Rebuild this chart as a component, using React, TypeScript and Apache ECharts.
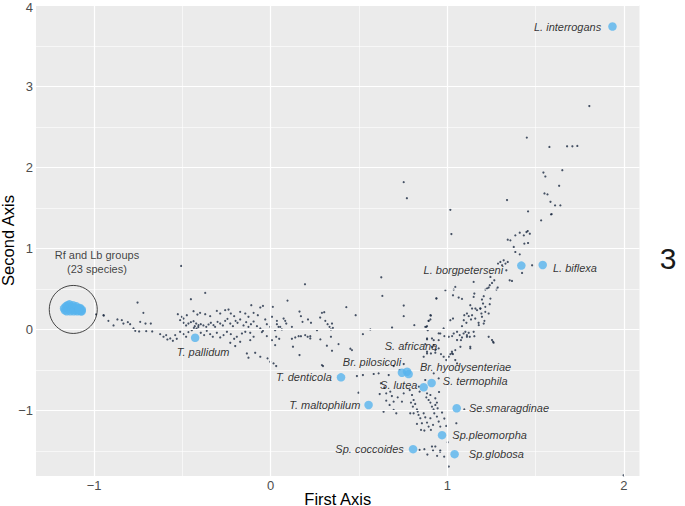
import React, { useEffect, useRef } from "react";
import * as echarts from "echarts";

// ---- axes ----
const xTicks = [-1, 0, 1, 2];
const yTicks = [-1, 0, 1, 2, 3, 4];
const xMinorGrid = [-0.5, 0.5, 1.5];
const yMinorGrid = [-1.5, -0.5, 0.5, 1.5, 2.5, 3.5];
const xRange = [-1.329, 2.088];
const yRange = [-1.809, 4.005];

// ---- highlighted (labelled) species ----
const namedSpecies = [
  "L. interrogans", "L. borgpetersenі", "L. biflexa", "T. pallidum", "T. denticola",
  "Br. pilosicoli", "S. africana", "Br. hyodysenteriae", "S. termophila", "S. lutea",
  "Se.smaragdinae", "Sp.pleomorpha", "Sp. coccoides", "Sp.globosa", "T. maltophilum",
];
const namedX = [1.935, 1.419, 1.540, -0.428, 0.398, 0.743, 0.772, 0.781, 0.911, 0.866, 1.053, 0.970, 0.806, 1.041, 0.554];
const namedY = [3.739, 0.788, 0.796, -0.103, -0.591, -0.534, -0.522, -0.551, -0.661, -0.714, -0.973, -1.305, -1.478, -1.539, -0.932];

// ---- Rf and Lb groups (23 species) ----
const rfLbX = [-1.17, -1.165, -1.16, -1.155, -1.15, -1.145, -1.14, -1.135, -1.13, -1.125, -1.12, -1.115,
  -1.11, -1.105, -1.1, -1.095, -1.09, -1.085, -1.08, -1.075, -1.07, -1.07, -1.085];
const rfLbY = [0.26, 0.235, 0.285, 0.225, 0.3, 0.255, 0.31, 0.225, 0.28, 0.245, 0.3, 0.225,
  0.27, 0.24, 0.285, 0.225, 0.255, 0.235, 0.265, 0.225, 0.245, 0.225, 0.255];
const groupCentre = [-1.118, 0.247];
const groupNote = "Rf and Lb groups\n(23 species)";
const groupNotePos = [-0.984, 0.83];

// ---- all other species ----
const otherSpecies: [number, number][] = [
  [-0.989, 0.185], [-0.947, 0.176], [-0.945, 0.172],
  [-0.507, 0.784], [-0.371, 0.451], [-0.754, 0.332], [-0.452, 0.373], [-0.110, 0.299], [-0.059, 0.271],
  [-0.044, 0.291], [-0.721, 0.205], [-0.526, 0.188], [-0.503, 0.156], [-0.494, 0.135], [-0.475, 0.176],
  [-0.437, 0.225], [-0.415, 0.184], [-0.400, 0.205], [-0.371, 0.188], [-0.343, 0.164], [-0.305, 0.229],
  [-0.286, 0.197], [-0.258, 0.238], [-0.239, 0.246], [-0.226, 0.197], [-0.207, 0.164], [-0.173, 0.217],
  [-0.144, 0.197], [-0.126, 0.156], [-0.097, 0.205], [-0.073, 0.176], [-0.031, 0.123], [0.007, 0.156],
  [0.035, 0.106], [-0.919, 0.106], [-0.890, 0.049], [-0.868, 0.123], [-0.843, 0.115], [-0.834, 0.073],
  [-0.809, 0.090], [-0.796, 0.065], [-0.777, 0.012], [-0.767, -0.017], [-0.739, 0.094], [-0.709, 0.073],
  [-0.679, 0.073], [-0.745, -0.025], [-0.705, -0.021], [-0.671, -0.025], [-0.513, 0.115], [-0.494, 0.082],
  [-0.479, 0.049], [-0.466, 0.073], [-0.452, 0.090], [-0.437, 0.102], [-0.422, 0.073], [-0.409, 0.053],
  [-0.396, 0.065], [-0.381, 0.049], [-0.365, 0.032], [-0.352, 0.061], [-0.339, 0.082], [-0.324, 0.053],
  [-0.315, 0.032], [-0.301, 0.094], [-0.286, 0.073], [-0.271, 0.049], [-0.258, 0.106], [-0.245, 0.131],
  [-0.229, 0.073], [-0.214, 0.041], [-0.199, 0.106], [-0.188, 0.082], [-0.173, 0.123], [-0.154, 0.049],
  [-0.139, 0.090], [-0.126, 0.032], [-0.112, 0.065], [-0.097, 0.098], [-0.078, 0.041], [-0.059, 0.012],
  [-0.044, -0.017], [-0.022, 0.065], [-0.003, 0.032], [0.025, -0.009], [0.044, 0.032], [-0.626, -0.058],
  [-0.607, -0.090], [-0.592, -0.070], [-0.585, -0.124], [-0.569, -0.111], [-0.554, -0.140], [-0.541, -0.070],
  [-0.532, -0.115], [-0.513, -0.029], [-0.494, -0.058], [-0.479, -0.090], [-0.466, -0.033], [-0.447, -0.009],
  [-0.396, -0.041], [-0.377, -0.070], [-0.362, -0.017], [-0.343, -0.058], [-0.328, -0.090], [-0.305, -0.041],
  [-0.286, -0.099], [-0.267, -0.070], [-0.248, -0.029], [-0.226, -0.058], [-0.207, -0.115], [-0.192, -0.090],
  [-0.163, -0.050], [-0.144, -0.029], [-0.116, -0.041], [-0.097, -0.090], [-0.050, -0.033], [-0.022, -0.082],
  [0.007, -0.132], [-0.229, -0.165], [-0.201, -0.205], [-0.173, -0.152], [-0.116, -0.132], [-0.135, -0.296],
  [-0.088, -0.288], [-0.126, -0.349], [-0.059, -0.337], [-0.018, -0.357], [-0.003, -0.399], [0.016, -0.419],
  [-0.435, 0.02], [-0.42, 0.01], [-0.41, 0.03], [-0.43, 0.04],
  // centre-left field
  [0.194, 0.558], [0.626, 0.644], [0.095, 0.356], [0.012, 0.279], [0.428, 0.275], [0.632, 0.414],
  [0.753, 0.295], [0.938, 0.385], [0.481, 0.176], [0.163, 0.221], [0.171, 0.164], [0.180, 0.094],
  [0.211, 0.123], [0.228, 0.082], [0.073, 0.135], [0.082, 0.106], [0.088, 0.073], [0.054, 0.032],
  [0.063, 0.000], [0.035, 0.065], [0.120, 0.032], [0.280, 0.147], [0.290, 0.205], [0.303, 0.213],
  [0.309, 0.106], [0.322, 0.065], [0.333, 0.032], [0.347, 0.073], [0.352, 0.020], [0.341, 0.000],
  [0.262, -0.009], [0.031, -0.090], [0.048, -0.115], [0.120, -0.115], [0.139, -0.099], [0.158, -0.083],
  [0.171, -0.083], [0.195, -0.070], [0.209, -0.090], [0.224, -0.083], [0.224, -0.111], [0.281, -0.123],
  [0.341, -0.090], [0.025, -0.193], [0.126, -0.213], [0.163, -0.316], [0.318, -0.201], [0.347, -0.263],
  [0.384, -0.181], [0.451, -0.238], [0.460, -0.255], [0.296, -0.452], [0.031, -0.452], [0.564, 0.000],
  [0.522, -0.058], [0.687, 0.024], [0.813, 0.053], [0.881, 0.032], [0.889, -0.009], [0.894, 0.106],
  [0.904, 0.123], [0.907, 0.172], [0.885, -0.123], [0.913, -0.111], [0.951, -0.049], [0.923, -0.193],
  [0.885, -0.275], [0.907, -0.296], [0.932, -0.287], [0.951, -0.234], [0.753, 0.164], [0.290, -0.440],
  [0.488, -0.575], [0.522, -0.563], [0.497, -0.781], [0.617, -0.797], [0.654, -0.879], [0.673, -0.932],
  [0.696, -0.994], [0.639, -1.015],
  // rising arm towards Leptospira
  [0.753, 1.818], [0.771, 1.620], [1.017, 1.477], [1.457, 1.457], [1.587, 1.420], [1.531, 1.346],
  [1.023, 1.178], [1.342, 1.108], [1.357, 1.100], [1.385, 1.161], [1.410, 1.194], [1.433, 1.161],
  [1.448, 1.202], [1.455, 1.215], [1.467, 1.182], [1.436, 1.059], [1.457, 1.067], [1.376, 1.018],
  [1.385, 0.956], [1.410, 0.927], [1.342, 0.833], [1.300, 0.833], [1.319, 0.854], [1.329, 0.813],
  [1.334, 0.730], [1.353, 0.607], [1.366, 0.599], [1.310, 0.792], [1.287, 0.813], [1.480, 0.792],
  [1.423, 0.697], [1.244, 0.648], [1.266, 0.607], [1.253, 0.574], [1.240, 0.546], [1.225, 0.505],
  [1.215, 0.492], [1.234, 0.517], [1.285, 0.517], [1.278, 0.492], [1.149, 0.587], [1.153, 0.443],
  [1.206, 0.410], [1.196, 0.369], [1.202, 0.320], [1.244, 0.381], [1.240, 0.312], [1.215, 0.217],
  [1.045, 0.525], [1.036, 0.492], [1.032, 0.422], [1.064, 0.394], [1.083, 0.377], [1.149, 0.402],
  [1.159, 0.258], [1.168, 0.238], [1.187, 0.258], [1.193, 0.197], [1.196, 0.156], [1.234, 0.197],
  [1.210, 0.106], [1.177, 0.082], [1.140, 0.258], [1.111, 0.197], [1.096, 0.176], [1.121, 0.164],
  [1.134, 0.123], [1.108, 0.082], [1.083, 0.041], [1.032, 0.135], [1.017, 0.114], [0.989, 0.484],
  [0.938, 0.381], [0.904, 0.176], [0.894, 0.106], [0.885, 0.041], [0.875, 0.032], [0.979, 0.012],
  [0.983, -0.082], [0.960, -0.050], [0.951, -0.132], [1.008, -0.091], [1.027, -0.082], [1.055, -0.029],
  [1.070, -0.070], [1.083, -0.099], [1.077, -0.132], [1.092, -0.050], [1.102, -0.029], [1.111, -0.070],
  [1.121, -0.041], [1.127, -0.091], [1.149, -0.029], [1.153, -0.083], [1.130, -0.214], [1.074, -0.214],
  [1.045, -0.255], [1.026, -0.275], [1.017, -0.304], [1.032, -0.304], [1.008, -0.337], [0.979, -0.337],
  [0.994, -0.378], [0.964, -0.304], [0.932, -0.255], [0.913, -0.214], [0.923, -0.132], [0.885, -0.111],
  [0.875, -0.181], [0.885, -0.296], [0.866, -0.337], [1.234, -0.091], [1.259, -0.152], [1.045, -0.378],
  [1.055, -0.419], [1.215, 0.279], [1.187, 0.258], [1.130, 0.299], [1.140, 0.176], [1.158, 0.135],
  [1.093, 0.114], [1.206, 0.073], [1.178, 0.053], [1.253, -0.131], [1.262, -0.164], [1.036, -0.050],
  [1.055, -0.131], [1.111, -0.091], [1.130, -0.234], [1.027, -0.296],
  // upper Leptospira branch
  [1.804, 2.758], [1.450, 2.368], [1.578, 2.253], [1.678, 2.261], [1.708, 2.261], [1.736, 2.265],
  [1.651, 1.966], [1.544, 1.937], [1.555, 1.888], [1.633, 1.773], [1.550, 1.679], [1.567, 1.667],
  [1.584, 1.576], [1.610, 1.531], [1.640, 1.531], [1.338, 1.597], [1.591, 1.424],
  // lower Spirochaeta / Treponema cluster
  [0.583, -0.550], [0.611, -0.542], [0.668, -0.563], [0.624, -0.665], [0.643, -0.715], [0.654, -0.789],
  [0.677, -0.768], [0.686, -0.822], [0.696, -0.891], [0.719, -0.838], [0.711, -1.035], [0.743, -0.891],
  [0.753, -0.789], [0.787, -0.748], [0.800, -0.809], [0.809, -0.871], [0.794, -0.903], [0.805, -0.953],
  [0.818, -0.920], [0.828, -0.986], [0.832, -1.014], [0.809, -1.035], [0.837, -1.055], [0.847, -1.096],
  [0.866, -1.035], [0.875, -1.084], [0.856, -1.158], [0.885, -1.150], [0.894, -1.199], [0.904, -1.096],
  [0.907, -1.240], [0.919, -1.178], [0.926, -1.035], [0.941, -1.076], [0.951, -1.137], [0.945, -0.973],
  [0.932, -0.932], [0.970, -1.026], [0.960, -1.199], [0.994, -1.191], [0.983, -1.100], [0.839, -0.706],
  [0.843, -0.768], [0.885, -0.789], [0.881, -0.838], [0.894, -0.871], [0.904, -0.903], [0.913, -0.953],
  [0.922, -0.986], [0.932, -0.850], [0.941, -0.903], [0.953, -0.772], [0.875, -0.624], [0.904, -0.809],
  [0.790, -1.035], [0.828, -1.166], [0.851, -1.240], [0.870, -1.248], [0.913, -1.445], [0.919, -1.495],
  [0.932, -1.445], [0.960, -1.495], [0.870, -1.478], [0.843, -1.486], [1.008, -1.692], [1.096, -0.986],
  [0.730, -0.501], [0.696, -0.452], [0.753, -0.427], [0.923, -0.542], [0.951, -0.604], [1.002, -1.392],
  [0.887, -1.544], [0.942, -1.560], [0.959, -1.509], [0.982, -1.570], [1.051, -1.158], [1.998, -1.80],
];

// label placement for the highlighted species (style only)
const labelPlacement: Record<string, { position: string; distance: number; offset?: number[] }> = {
  "L. interrogans": { position: "left", distance: 7 },
  "L. borgpetersenі": { position: "left", distance: 14, offset: [0, 4] },
  "L. biflexa": { position: "right", distance: 6, offset: [0, 3] },
  "T. pallidum": { position: "bottom", distance: 4, offset: [8, 0] },
  "T. denticola": { position: "left", distance: 5 },
  "Br. pilosicoli": { position: "top", distance: 1, offset: [-30, 0] },
  "S. africana": { position: "top", distance: 16, offset: [4, 0] },
  "Br. hyodysenteriae": { position: "right", distance: 7, offset: [0, -7] },
  "S. termophila": { position: "right", distance: 7, offset: [0, -2] },
  "S. lutea": { position: "left", distance: 2, offset: [0, -2] },
  "Se.smaragdinae": { position: "right", distance: 8 },
  "Sp.pleomorpha": { position: "right", distance: 6 },
  "Sp. coccoides": { position: "left", distance: 5 },
  "Sp.globosa": { position: "right", distance: 10 },
  "T. maltophilum": { position: "left", distance: 4 },
};

const FONT = "'Liberation Sans', Arial, Helvetica, sans-serif";
const BLUE = "#58B4EE";
const DOT = "#1B2A42";
const fmt = (v: number) => (v < 0 ? "\u2212" + Math.abs(v) : String(v));
const fmtY = (v: number) => (v === 4 ? "{top|4}" : fmt(v));

export default function App() {
  const ref = useRef<HTMLDivElement>(null);
  useEffect(() => {
    document.body.style.margin = "0";
    const chart = echarts.init(ref.current!, null, { renderer: "svg" });

    const gridLines = [
      ...xTicks.map((v) => ({ xAxis: v, lineStyle: { width: 1.2 } })),
      ...xMinorGrid.map((v) => ({ xAxis: v, lineStyle: { width: 0.6 } })),
      ...yTicks.map((v) => ({ yAxis: v, lineStyle: { width: 1.2 } })),
      ...yMinorGrid.map((v) => ({ yAxis: v, lineStyle: { width: 0.6 } })),
    ];

    const named = namedSpecies.map((name, i) => {
      const p = labelPlacement[name];
      return {
        name,
        value: [namedX[i], namedY[i]],
        label: {
          show: true,
          formatter: name,
          position: p.position,
          distance: p.distance,
          offset: p.offset || [0, 0],
        },
      };
    });

    chart.setOption({
      animation: false,
      textStyle: { fontFamily: FONT },
      grid: {
        left: 36, right: 45.5, top: 5, bottom: 30,
        outerBoundsMode: "none", containLabel: false,
        show: true, backgroundColor: "#EBEBEB", borderWidth: 0,
      },
      xAxis: {
        type: "value", min: xRange[0], max: xRange[1],
        name: "First Axis", nameLocation: "middle", nameGap: 14, nameMoveOverlap: false,
        nameTextStyle: { fontSize: 16.5, color: "#000", fontFamily: FONT },
        axisLine: { show: false },
        splitLine: { show: false },
        axisTick: { show: true, customValues: xTicks, length: 3, lineStyle: { color: "#333", width: 1 } },
        axisLabel: { customValues: xTicks, formatter: fmt, fontSize: 13, color: "#4D4D4D", margin: 3, fontFamily: FONT },
      },
      yAxis: {
        type: "value", min: yRange[0], max: yRange[1],
        name: "Second Axis", nameLocation: "middle", nameGap: 20, nameMoveOverlap: false,
        nameTextStyle: { fontSize: 16.5, color: "#000", fontFamily: FONT },
        axisLine: { show: false },
        splitLine: { show: false },
        axisTick: { show: true, customValues: yTicks, length: 3, lineStyle: { color: "#333", width: 1 } },
        axisLabel: {
          customValues: yTicks, formatter: fmtY, fontSize: 13, color: "#4D4D4D", margin: 3, fontFamily: FONT,
          rich: { top: { fontSize: 13, color: "#4D4D4D", fontFamily: FONT, padding: [5, 0, 0, 0] } },
        },
      },
      graphic: [
        {
          type: "text", x: 668, y: 258, z: 10,
          style: { text: "3", fontSize: 30, fontFamily: FONT, fill: "#1a1a1a", textAlign: "center", textVerticalAlign: "middle" },
        },
      ],
      series: [
        {
          type: "scatter", z: 1, silent: true, data: [],
          markLine: {
            silent: true, symbol: ["none", "none"], label: { show: false },
            lineStyle: { color: "#FFFFFF", type: "solid" },
            data: gridLines,
          },
        },
        {
          type: "scatter", z: 3, silent: true,
          symbolSize: 2.2,
          itemStyle: { color: DOT },
          data: otherSpecies,
        },
        {
          type: "scatter", z: 4, silent: true,
          symbolSize: 8.5,
          itemStyle: { color: BLUE },
          data: rfLbX.map((x, i) => [x, rfLbY[i]]),
        },
        {
          type: "scatter", z: 5, silent: true,
          symbolSize: 48,
          itemStyle: { color: "rgba(0,0,0,0)", borderColor: "#1a1a1a", borderWidth: 1 },
          data: [groupCentre],
        },
        {
          type: "scatter", z: 6, silent: true,
          symbolSize: 0,
          data: [groupNotePos],
          label: {
            show: true, position: "inside", formatter: groupNote,
            fontSize: 11, lineHeight: 14, color: "#111", align: "center", fontFamily: FONT,
          },
        },
        {
          type: "scatter", z: 7, silent: true,
          symbolSize: 8.5,
          itemStyle: { color: BLUE },
          label: { fontSize: 11, fontStyle: "italic", color: "#000", fontFamily: FONT },
          data: named,
        },
      ],
    });
    return () => chart.dispose();
  }, []);
  return <div ref={ref} style={{ width: 685, height: 506 }} />;
}
